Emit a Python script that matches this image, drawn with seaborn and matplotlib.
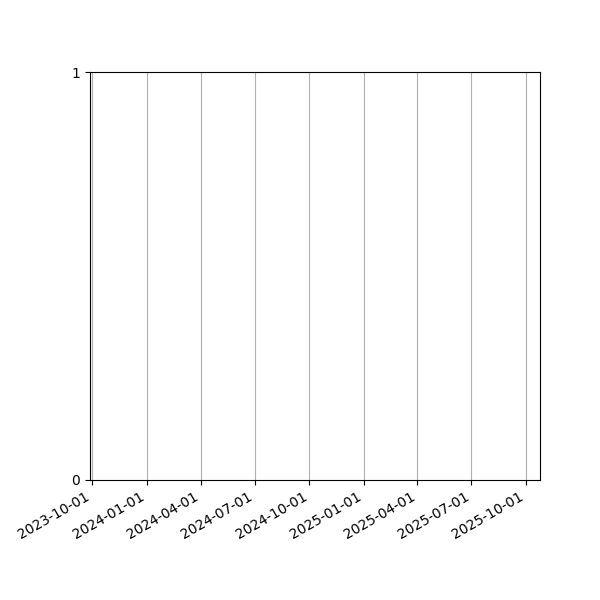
import numpy as np
import pandas as pd
import seaborn as sns
import matplotlib
matplotlib.use("Agg")
import matplotlib.pyplot as plt
import matplotlib.dates as mdates

# data (the chart has no visible series, only the date axis)
dates = pd.to_datetime([])
values = np.array([], dtype=float)
tick_dates = pd.to_datetime(["2023-10-01", "2024-01-01", "2024-04-01", "2024-07-01",
                             "2024-10-01", "2025-01-01", "2025-04-01", "2025-07-01",
                             "2025-10-01"])
x_start = pd.Timestamp("2023-09-27 15:00")
x_end = pd.Timestamp("2025-10-24 14:00")
y_ticks = [0, 1]

fig, ax = plt.subplots(figsize=(6, 6), dpi=100)
fig.subplots_adjust(left=0.15, right=0.9, top=0.88, bottom=0.2)

df = pd.DataFrame({"date": dates, "value": values})
sns.lineplot(data=df, x="date", y="value", ax=ax)

ax.set_xlim(mdates.date2num(x_start), mdates.date2num(x_end))
ax.xaxis.set_major_locator(mdates.MonthLocator(bymonth=[1, 4, 7, 10]))
ax.xaxis.set_major_formatter(mdates.DateFormatter("%Y-%m-%d"))
ax.set_xticks(mdates.date2num(tick_dates))
ax.set_ylim(0, 1)
ax.set_yticks(y_ticks)
ax.set_xlabel("")
ax.set_ylabel("")
ax.grid(axis="x", color="#b0b0b0", linewidth=0.8)
for lbl in ax.get_xticklabels():
    lbl.set_rotation(30)
    lbl.set_ha("right")

fig.savefig("out.png", dpi=100)
